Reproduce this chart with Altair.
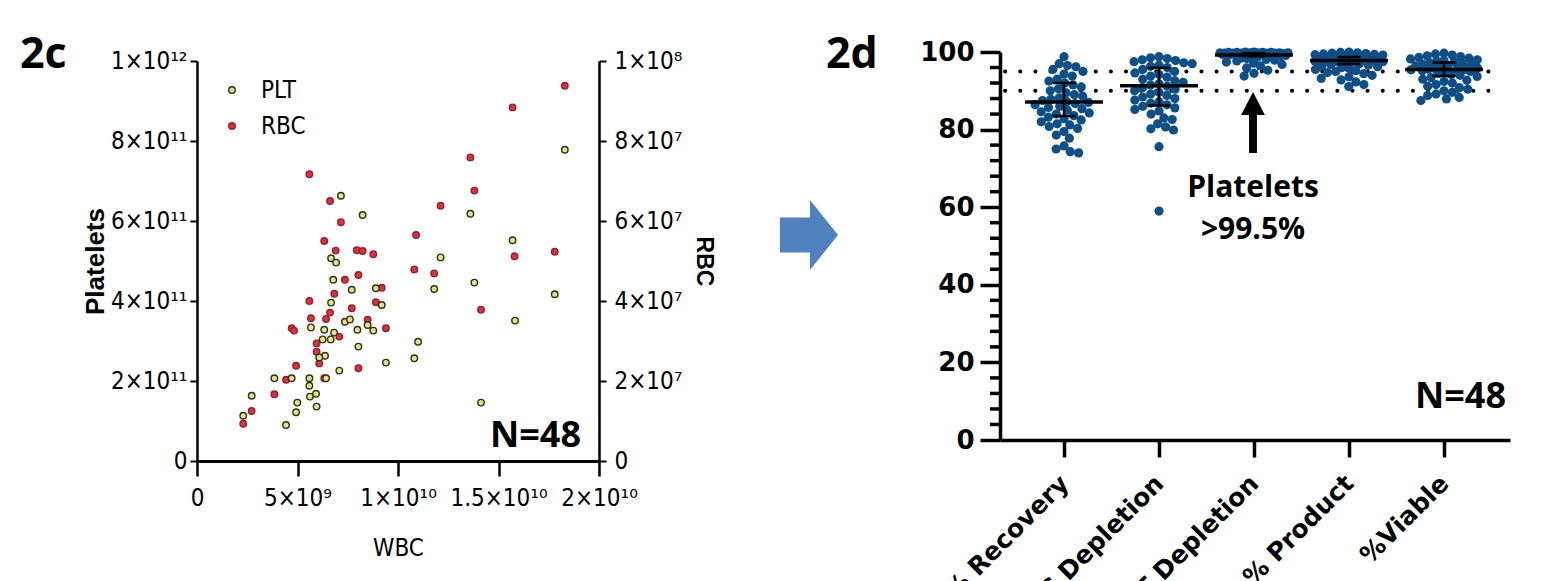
import json
import altair as alt
import pandas as pd

# ---------------- Panel 2c data (WBC in 1e9, PLT in 1e11, RBC in 1e7) ----------------
plt_wbc = [18.3, 7.16, 8.24, 13.6, 15.7, 12.12, 6.67, 6.92, 11.8, 13.8,
           17.8, 15.82, 14.13, 6.78, 7.7, 8.9, 6.67, 9.19, 5.67, 7.36,
           7.61, 7.98, 8.49, 8.77, 6.33, 6.82, 6.25, 6.65, 8.03, 11.0,
           10.81, 6.37, 6.08, 9.4, 7.08, 3.85, 4.71, 6.42, 5.59, 5.59,
           5.62, 5.92, 5.95, 2.72, 2.3, 4.99, 4.93, 4.43]
plt_val = [7.78, 6.63, 6.15, 6.18, 5.52, 5.09, 5.07, 4.96, 4.30, 4.46,
           4.17, 3.51, 1.46, 4.53, 4.28, 4.32, 3.96, 3.90, 3.34, 3.48,
           3.54, 3.28, 3.40, 3.26, 3.28, 3.21, 3.04, 3.04, 2.86, 2.98,
           2.57, 2.63, 2.59, 2.46, 2.26, 2.07, 2.07, 2.07, 2.07, 1.88,
           1.61, 1.68, 1.36, 1.63, 1.13, 1.46, 1.22, 0.90]
rbc_wbc = [18.3, 15.7, 5.59, 13.6, 13.8, 6.62, 7.16, 12.12, 6.33, 10.9,
           6.9, 7.95, 8.24, 8.77, 15.8, 17.8, 10.81, 11.8, 14.13, 7.36,
           8.03, 9.19, 5.59, 6.83, 7.7, 8.9, 5.67, 6.62, 6.42, 4.71,
           4.83, 8.49, 9.4, 7.08, 5.95, 5.95, 6.08, 8.03, 4.93, 4.43,
           6.33, 3.85, 2.72, 2.3]
rbc_val = [9.38, 8.84, 7.17, 7.59, 6.76, 6.50, 5.97, 6.38, 5.50, 5.65,
           5.26, 5.27, 5.25, 5.17, 5.12, 5.23, 4.79, 4.69, 3.78, 4.53,
           4.65, 4.33, 4.00, 4.18, 3.82, 3.97, 3.57, 3.71, 3.55, 3.32,
           3.26, 3.53, 3.32, 3.11, 2.94, 2.73, 2.44, 2.32, 2.38, 2.03,
           2.07, 1.67, 1.25, 0.93]

wbc_ticks = [0, 5e9, 1e10, 1.5e10, 2e10]
wbc_labels = ["0", "5×10⁹", "1×10¹⁰", "1.5×10¹⁰", "2×10¹⁰"]
plt_ticks = [0, 2e11, 4e11, 6e11, 8e11, 1e12]
plt_labels = ["0", "2×10¹¹", "4×10¹¹", "6×10¹¹", "8×10¹¹", "1×10¹²"]
rbc_ticks = [0, 2e7, 4e7, 6e7, 8e7, 1e8]
rbc_labels = ["0", "2×10⁷", "4×10⁷", "6×10⁷", "8×10⁷", "1×10⁸"]

# ---------------- Panel 2d data ----------------
categories = ["% Recovery", "WBC Depletion", "PLT Depletion", "% Product", "%Viable"]
recovery = [98.8, 97.0, 96.5, 96.2, 95.5, 95.0, 94.3, 93.8, 93.0, 92.5,
            92.0, 91.5, 91.0, 90.5, 90.0, 89.5, 89.0, 88.6, 88.2, 87.8,
            87.5, 87.2, 87.0, 86.7, 86.4, 86.0, 85.7, 85.4, 85.0, 84.6,
            84.3, 84.0, 83.6, 83.2, 82.8, 82.5, 82.0, 81.5, 81.2, 80.8,
            80.3, 79.5, 78.6, 77.8, 75.8, 75.0, 74.3, 74.0]
wbc_depl = [98.8, 98.5, 98.3, 98.0, 97.8, 97.5, 97.2, 97.0, 96.6, 96.3,
            96.0, 95.5, 95.0, 94.6, 94.2, 93.8, 93.5, 93.0, 92.6, 92.2,
            91.8, 91.5, 91.2, 90.8, 90.4, 90.0, 89.6, 89.2, 88.8, 88.4,
            88.0, 87.6, 87.2, 86.8, 86.4, 86.0, 85.6, 85.2, 84.8, 84.0,
            83.0, 82.6, 81.5, 80.7, 80.2, 79.9, 75.6, 59.0]
plt_depl = [100.0, 100.0, 99.9, 99.9, 99.9, 99.9, 99.8, 99.8, 99.8, 99.8,
            99.8, 99.7, 99.7, 99.7, 99.7, 99.7, 99.6, 99.6, 99.6, 99.6,
            99.5, 99.5, 99.5, 99.5, 99.4, 99.4, 99.4, 99.3, 99.3, 99.2,
            99.2, 99.1, 99.0, 98.9, 98.7, 98.5, 98.3, 98.1, 97.9, 97.7,
            97.4, 97.1, 96.8, 96.4, 95.9, 95.3, 94.5, 93.8]
product = [100.0, 99.9, 99.8, 99.7, 99.6, 99.5, 99.4, 99.3, 99.2, 99.1,
           99.0, 98.9, 98.8, 98.7, 98.6, 98.5, 98.4, 98.3, 98.2, 98.1,
           98.0, 97.9, 97.8, 97.7, 97.6, 97.5, 97.4, 97.3, 97.2, 97.0,
           96.8, 96.6, 96.4, 96.2, 96.0, 95.8, 95.5, 95.2, 95.0, 94.7,
           94.4, 94.0, 93.6, 93.2, 92.8, 92.3, 91.6, 91.1]
viable = [99.7, 99.5, 99.2, 99.0, 98.8, 98.6, 98.4, 98.2, 98.0, 97.8,
          97.6, 97.4, 97.2, 97.0, 96.8, 96.6, 96.4, 96.2, 96.0, 95.9,
          95.8, 95.7, 95.6, 95.5, 95.4, 95.2, 95.0, 94.8, 94.5, 94.2,
          94.0, 93.7, 93.4, 93.0, 92.7, 92.4, 92.0, 91.6, 91.2, 90.8,
          90.4, 90.0, 89.6, 89.2, 88.8, 88.3, 87.9, 87.5]
series_2d = [recovery, wbc_depl, plt_depl, product, viable]
medians = [87.1, 91.3, 99.2, 97.8, 95.5]
err_lo = [83.5, 86.2, 98.9, 96.9, 93.8]
err_hi = [92.0, 95.9, 99.7, 98.7, 97.3]
thresholds = [95, 90]

# ---------------- fonts / colours ----------------
NARROW = "Liberation Sans Narrow, DejaVu Sans Condensed, sans-serif"
BOLD = "Liberation Sans, Arial, sans-serif"
HEAVY = "DejaVu Sans, sans-serif"
OPEN = "Open Sans, Liberation Sans, sans-serif"
BLUE_DOT = "#0f4f85"


def lab_expr(labels, step):
    return f"{json.dumps(labels, ensure_ascii=False)}[round(datum.value/{step})]"


# ---------------- Panel 2c ----------------
W1, H = 402, 409
df_plt = pd.DataFrame({"wbc": [v * 1e9 for v in plt_wbc], "plt": [v * 1e11 for v in plt_val]})
df_rbc = pd.DataFrame({"wbc": [v * 1e9 for v in rbc_wbc], "rbc": [v * 1e7 for v in rbc_val]})

x2c_scale = alt.Scale(domain=[0, 2e10], nice=False, zero=False)
x2c_axis = alt.Axis(values=wbc_ticks, labelExpr=lab_expr(wbc_labels, 5000000000),
                    title="WBC", tickSize=15, tickWidth=2.5, domainWidth=3,
                    labelFont=NARROW, labelFontSize=24, labelPadding=10,
                    labelOverlap=False, labelLimit=0, labelFlush=False,
                    titleFont=NARROW, titleFontSize=24, titleFontWeight="normal",
                    titleX=201, titleY=87, titleBaseline="middle", titleAlign="center")

rbc_layer = alt.Chart(df_rbc).mark_point(
    shape="circle", filled=True, size=42, fill="#cf3743", stroke="#9a1d2a",
    strokeWidth=1.4, opacity=1
).encode(
    x=alt.X("wbc:Q", scale=x2c_scale, axis=x2c_axis),
    y=alt.Y("rbc:Q", scale=alt.Scale(domain=[0, 1e8], range=[H, 9], nice=False, zero=False),
            axis=alt.Axis(orient="right", values=rbc_ticks, labelExpr=lab_expr(rbc_labels, 20000000),
                          title="RBC", tickSize=7, tickWidth=2, domainWidth=2.5,
                          labelFont=NARROW, labelFontSize=24, labelPadding=8,
                          labelOverlap=False, labelLimit=0, labelFlush=False,
                          titleFont=BOLD, titleFontSize=23, titleFontWeight="bold",
                          titleAngle=90, titleX=104, titleY=209,
                          titleAlign="center", titleBaseline="middle")),
)

plt_layer = alt.Chart(df_plt).mark_point(
    shape="circle", filled=True, size=42, fill="#e1e38c", stroke="#2f2f10",
    strokeWidth=1.4, opacity=1
).encode(
    x=alt.X("wbc:Q", scale=x2c_scale, axis=x2c_axis),
    y=alt.Y("plt:Q", scale=alt.Scale(domain=[0, 1e12], range=[H, 9], nice=False, zero=False),
            axis=alt.Axis(orient="left", values=plt_ticks, labelExpr=lab_expr(plt_labels, 200000000000),
                          title="Platelets", tickSize=7, tickWidth=2, domainWidth=2.5,
                          labelFont=NARROW, labelFontSize=24, labelPadding=3,
                          labelOverlap=False, labelLimit=0, labelFlush=False,
                          titleFont=BOLD, titleFontSize=26, titleFontWeight="bold",
                          titleAngle=270, titleX=-102, titleY=209,
                          titleAlign="center", titleBaseline="middle")),
)

one = pd.DataFrame({"k": [0]})
leg_plt_pt = alt.Chart(one).mark_point(shape="circle", filled=True, size=42, fill="#e1e38c",
                                        stroke="#2f2f10", strokeWidth=1.4, opacity=1).encode(
    x=alt.value(35), y=alt.value(38))
leg_rbc_pt = alt.Chart(one).mark_point(shape="circle", filled=True, size=42, fill="#cf3743",
                                        stroke="#9a1d2a", strokeWidth=1.4, opacity=1).encode(
    x=alt.value(35), y=alt.value(74))
leg_plt_tx = alt.Chart(one).mark_text(text="PLT", font=NARROW, fontSize=24, align="left",
                                      baseline="middle", color="black").encode(
    x=alt.value(64), y=alt.value(39))
leg_rbc_tx = alt.Chart(one).mark_text(text="RBC", font=NARROW, fontSize=24, align="left",
                                      baseline="middle", color="black").encode(
    x=alt.value(64), y=alt.value(75))
n_2c = alt.Chart(one).mark_text(text="N=48", font=OPEN, fontSize=36, fontWeight="bold",
                                align="right", baseline="alphabetic", color="black").encode(
    x=alt.value(384), y=alt.value(395))
tag_2c = alt.Chart(one).mark_text(text="2c", font=OPEN, fontSize=43, fontWeight="bold",
                                  align="left", baseline="alphabetic", color="black").encode(
    x=alt.value(-177), y=alt.value(16))

c2c = alt.layer(rbc_layer, plt_layer, leg_plt_pt, leg_rbc_pt, leg_plt_tx, leg_rbc_tx,
                n_2c, tag_2c).resolve_scale(y="independent").properties(width=W1, height=H)


# ---------------- Panel 2d ----------------
PPU = 388 / 100.0  # pixels per % unit
STEP = 95.0        # pixels between categories


def swarm(vals, d=8.5, maxhalf=34.0):
    n = len(vals)
    order = sorted(range(n), key=lambda i: -vals[i])
    placed = []
    out = [0.0] * n
    for i in order:
        y = vals[i] * PPU
        dd = d
        while True:
            cands = [0.0]
            for (yq, xq) in placed:
                dy = abs(y - yq)
                if dy < dd:
                    w = (dd * dd - dy * dy) ** 0.5
                    cands.extend([xq - w, xq + w])
            cands.sort(key=lambda c: (round(abs(c), 6), c))
            pick = None
            for c in cands:
                if abs(c) > maxhalf:
                    break
                if all((y - yq) ** 2 + (c - xq) ** 2 >= dd * dd - 1e-6 for yq, xq in placed):
                    pick = c
                    break
            if pick is not None:
                break
            dd *= 0.85
        placed.append((y, pick))
        out[i] = pick
    return out


rows = []
for ci, vals in enumerate(series_2d):
    offs = swarm(vals)
    for v, o in zip(vals, offs):
        rows.append({"cat": categories[ci], "xpos": ci + o / STEP, "val": v})
df_pts = pd.DataFrame(rows)

idx = list(range(len(categories)))
df_med = pd.DataFrame({"i": idx, "lo": [i - 0.41 for i in idx], "hi": [i + 0.41 for i in idx],
                       "clo": [i - 0.12 for i in idx], "chi": [i + 0.12 for i in idx],
                       "med": medians, "elo": err_lo, "ehi": err_hi})
df_thr = pd.DataFrame({"y": thresholds, "x1": [-0.62] * 2, "x2": [4.56] * 2})
df_minor = pd.DataFrame({"v": [v for v in range(4, 100, 4) if v % 20]})

W2 = 510
xs = alt.Scale(domain=[-0.674, 4.695], nice=False, zero=False)
ys = alt.Scale(domain=[0, 100], range=[388, 0], nice=False, zero=False)
xaxis = alt.Axis(values=idx, labelExpr=lab_expr(categories, 1), labelAngle=315,
                 labelAlign="right", labelBaseline="middle", labelFont=HEAVY,
                 labelFontWeight="bold", labelFontSize=25, labelPadding=22,
                 labelOverlap=False, labelLimit=0, labelFlush=False,
                 tickSize=17, tickWidth=3.5, domainWidth=3.5, offset=-21, title=None)
yaxis = alt.Axis(values=[0, 20, 40, 60, 80, 100], labelFont=HEAVY, labelFontWeight="bold",
                 labelFontSize=26, labelPadding=6, tickSize=20, tickWidth=3.5,
                 labelOverlap=False, labelFlush=False,
                 domainWidth=3.5, title=None)

thr = alt.Chart(df_thr).mark_rule(color="black", strokeWidth=4, strokeDash=[0.1, 15],
                                  strokeCap="round").encode(
    x=alt.X("x1:Q", scale=xs, axis=xaxis), x2="x2:Q", y=alt.Y("y:Q", scale=ys, axis=yaxis))
minor = alt.Chart(df_minor).mark_rule(color="black", strokeWidth=3.5).encode(
    x=alt.value(-10), x2=alt.value(0), y=alt.Y("v:Q", scale=ys, axis=yaxis))
pts = alt.Chart(df_pts).mark_circle(size=85, color=BLUE_DOT, opacity=1).encode(
    x=alt.X("xpos:Q", scale=xs, axis=xaxis), y=alt.Y("val:Q", scale=ys, axis=yaxis))
ebar = alt.Chart(df_med).mark_rule(color="black", strokeWidth=2.5).encode(
    x=alt.X("i:Q", scale=xs, axis=xaxis), y=alt.Y("elo:Q", scale=ys, axis=yaxis), y2="ehi:Q")
cap_lo = alt.Chart(df_med).mark_rule(color="black", strokeWidth=2.5).encode(
    x=alt.X("clo:Q", scale=xs, axis=xaxis), x2="chi:Q", y=alt.Y("elo:Q", scale=ys, axis=yaxis))
cap_hi = alt.Chart(df_med).mark_rule(color="black", strokeWidth=2.5).encode(
    x=alt.X("clo:Q", scale=xs, axis=xaxis), x2="chi:Q", y=alt.Y("ehi:Q", scale=ys, axis=yaxis))
med = alt.Chart(df_med).mark_rule(color="black", strokeWidth=3.5).encode(
    x=alt.X("lo:Q", scale=xs, axis=xaxis), x2="hi:Q", y=alt.Y("med:Q", scale=ys, axis=yaxis))

ARROW_UP = "M 0 -1 L 0.39 -0.25 L 0.13 -0.25 L 0.13 1 L -0.13 1 L -0.13 -0.25 L -0.39 -0.25 Z"
ARROW_RIGHT = "M -0.86 -0.5 L 0 -0.5 L 0 -1 L 0.8 0 L 0 1 L 0 0.5 L -0.86 0.5 Z"
black_arrow = alt.Chart(one).mark_point(shape=ARROW_UP, size=3721, filled=True, fill="black",
                                         strokeWidth=0, opacity=1).encode(
    x=alt.value(253), y=alt.value(70.5))
note = alt.Chart(one).mark_text(text=["Platelets", ">99.5%"], font=OPEN, fontSize=30,
                                fontWeight="bold", align="center", baseline="alphabetic",
                                lineHeight=42, color="black").encode(
    x=alt.value(253), y=alt.value(145))
n_2d = alt.Chart(one).mark_text(text="N=48", font=OPEN, fontSize=36, fontWeight="bold",
                                align="right", baseline="alphabetic", color="black").encode(
    x=alt.value(506), y=alt.value(356))
tag_2d = alt.Chart(one).mark_text(text="2d", font=OPEN, fontSize=43, fontWeight="bold",
                                  align="left", baseline="alphabetic", color="black").encode(
    x=alt.value(-174), y=alt.value(16))
blue_arrow = alt.Chart(one).mark_point(shape=ARROW_RIGHT, size=4900, filled=True, fill="#4f81bd",
                                        strokeWidth=0, opacity=1).encode(
    x=alt.value(-190), y=alt.value(183))

c2d = alt.layer(thr, minor, pts, ebar, cap_lo, cap_hi, med, black_arrow, note, n_2d,
                tag_2d, blue_arrow).properties(width=W2, height=H)

chart = alt.hconcat(c2c, c2d, spacing=401, bounds="flush").properties(
    padding={"left": 12, "top": 26, "right": 5, "bottom": 0}
).configure_view(stroke=None).configure_axis(
    grid=False, labelColor="black", domainColor="black", tickColor="black", titleColor="black"
)

chart.save("out.html", embed_options={"renderer": "svg", "actions": False})
